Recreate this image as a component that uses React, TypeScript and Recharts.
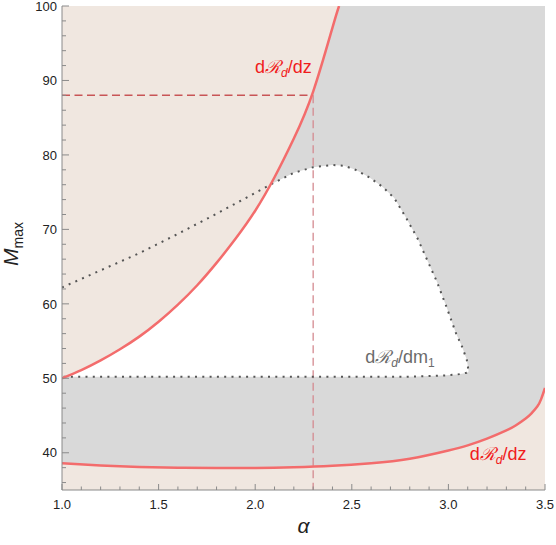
import React from 'react';
import { ComposedChart, Area, Line, XAxis, YAxis, CartesianGrid, ReferenceDot } from 'recharts';

// upper dR_d/dz boundary (beige to its left)
const upperAlpha = [1.0, 1.1, 1.2, 1.3, 1.4, 1.5, 1.6, 1.7, 1.8, 1.9, 2.0, 2.1, 2.2, 2.3, 2.4, 2.434];
const upperM = [50.0, 51.1, 52.4, 53.9, 55.6, 57.6, 59.9, 62.5, 65.5, 68.8, 72.5, 77.0, 82.2, 88.5, 97.1, 100];

// lower dR_d/dz boundary (beige below it)
const lowerAlpha = [1.0, 1.2, 1.4, 1.6, 1.8, 2.0, 2.2, 2.4, 2.6, 2.8, 3.0, 3.1, 3.2, 3.3, 3.35, 3.4, 3.43, 3.46, 3.48, 3.5];
const lowerM = [38.6, 38.3, 38.1, 38.0, 37.95, 37.95, 38.05, 38.25, 38.6, 39.2, 40.3, 41.0, 41.9, 43.0, 43.7, 44.6, 45.3, 46.2, 47.2, 48.7];

// dR_d/dm1 contour (dotted), top and bottom edge
const dotAlpha = [1.0, 1.2, 1.4, 1.6, 1.8, 2.0, 2.1, 2.2, 2.3, 2.4, 2.46, 2.52, 2.59, 2.66, 2.72, 2.78, 2.84, 2.89, 2.94, 2.99, 3.04, 3.07, 3.095, 3.105];
const dotHighM = [62.2, 64.5, 66.8, 69.4, 72.1, 74.9, 76.3, 77.6, 78.35, 78.65, 78.55, 78.0, 77.0, 75.7, 74.2, 71.6, 68.8, 65.9, 63.0, 59.6, 56.0, 54.3, 52.5, 50.9];
const dotLowM = [50.2, 50.2, 50.2, 50.2, 50.2, 50.2, 50.2, 50.2, 50.2, 50.2, 50.2, 50.2, 50.2, 50.2, 50.2, 50.2, 50.25, 50.3, 50.35, 50.4, 50.5, 50.6, 50.75, 50.9];

// dashed guide at alpha = 2.3, M_max = 88
const guideAlpha = 2.3;
const guideM = 88;

const xTicks = [1.0, 1.1, 1.2, 1.3, 1.4, 1.5, 1.6, 1.7, 1.8, 1.9, 2.0, 2.1, 2.2, 2.3, 2.4, 2.5, 2.6, 2.7, 2.8, 2.9, 3.0, 3.1, 3.2, 3.3, 3.4, 3.5];
const yTicks = [36, 38, 40, 42, 44, 46, 48, 50, 52, 54, 56, 58, 60, 62, 64, 66, 68, 70, 72, 74, 76, 78, 80, 82, 84, 86, 88, 90, 92, 94, 96, 98, 100];

const labelAlpha = [2.146, 3.257, 2.749];
const labelM = [91.0, 39.0, 52.05];
const labelVar = ['z', 'z', 'm'];
const labelSub = ['', '', '1'];
const labelColor = ['#f01c1c', '#f01c1c', '#6b6b6b'];

const xMin = 1.0, xMax = 3.5, yMin = 35, yMax = 100;

const FONT = '"Liberation Sans", Arial, sans-serif';
const BEIGE = '#f0e7e0';
const GRAY = '#d9d9d9';
const FRAME = '#8a8a8a';

const pts = (xs: number[], ys: number[]) => xs.map((x, i) => ({ x, y: ys[i] }));

const upperLine = pts(upperAlpha, upperM);
const lowerLine = pts(lowerAlpha, lowerM);
const dottedPath = [...pts(dotAlpha, dotHighM), ...pts(dotAlpha, dotLowM).reverse()];
const grayBand = lowerAlpha.map((x, i) => ({ x, r: [lowerM[i], yMax] }));
const whiteBand = dotAlpha.map((x, i) => ({ x, r: [dotLowM[i], dotHighM[i]] }));
const beigeBand = upperAlpha.map((x, i) => ({ x, r: [upperM[i], yMax] }));
const hGuide = [{ x: xMin, y: guideM }, { x: guideAlpha, y: guideM }];
const vGuide = [{ x: guideAlpha, y: guideM }, { x: guideAlpha, y: yMin }];

const isMajorX = (v: number) => Math.abs(v * 2 - Math.round(v * 2)) < 1e-6;
const isMajorY = (v: number) => v % 10 === 0;

const BottomTick = (p: any) => {
  const v = p.payload.value;
  const major = isMajorX(v);
  return (
    <g>
      <line x1={p.x} x2={p.x} y1={p.y} y2={p.y - (major ? 6 : 3.5)} stroke={FRAME} />
      {major && (
        <text x={p.x} y={p.y + 19} textAnchor="middle" fontSize={13} fontFamily={FONT} fill="#222">
          {v.toFixed(1)}
        </text>
      )}
    </g>
  );
};

const TopTick = (p: any) => {
  const major = isMajorX(p.payload.value);
  return <line x1={p.x} x2={p.x} y1={p.y} y2={p.y + (major ? 6 : 3.5)} stroke={FRAME} />;
};

const LeftTick = (p: any) => {
  const v = p.payload.value;
  const major = isMajorY(v);
  return (
    <g>
      <line x1={p.x} x2={p.x + (major ? 7 : 4)} y1={p.y} y2={p.y} stroke={FRAME} />
      {major && (
        <text x={p.x - 5} y={p.y + 4.7} textAnchor="end" fontSize={13} fontFamily={FONT} fill="#222">
          {v}
        </text>
      )}
    </g>
  );
};

const RightTick = (p: any) => {
  const major = isMajorY(p.payload.value);
  return <line x1={p.x} x2={p.x - (major ? 7 : 4)} y1={p.y} y2={p.y} stroke={FRAME} />;
};

const rateLabel = (i: number) => (p: any) => {
  const vb = p.viewBox;
  return (
    <text x={vb.x} y={vb.y} textAnchor="middle" fontSize={18} fontFamily={FONT} fill={labelColor[i]}>
      d<tspan fontStyle="italic">ℛ</tspan>
      <tspan fontStyle="italic" fontSize={12} dy={4}>d</tspan>
      <tspan dy={-4}>/d{labelVar[i]}</tspan>
      {labelSub[i] && <tspan fontSize={12} dy={4}>{labelSub[i]}</tspan>}
    </text>
  );
};

const AlphaTitle = (p: any) => {
  const vb = p.viewBox;
  return (
    <text x={vb.x + vb.width / 2} y={vb.y + 43} textAnchor="middle" fontSize={21} fontStyle="italic" fontFamily={FONT} fill="#222">
      α
    </text>
  );
};

const MTitle = (p: any) => {
  const vb = p.viewBox;
  const cx = vb.x + 6;
  const cy = vb.y + vb.height / 2 - 4;
  return (
    <text x={cx} y={cy} transform={`rotate(-90, ${cx}, ${cy})`} textAnchor="middle" fontSize={21} fontFamily={FONT} fill="#222">
      <tspan fontStyle="italic">M</tspan>
      <tspan fontSize={14} dy={5}>max</tspan>
    </text>
  );
};

export default function App() {
  return (
    <div style={{ position: 'absolute', left: 0, top: 0 }}>
      <ComposedChart width={556} height={545} margin={{ top: 6, right: 11, bottom: 25, left: 12 }}>
        <CartesianGrid horizontal={false} vertical={false} fill={BEIGE} />
        <XAxis
          type="number"
          dataKey="x"
          domain={[xMin, xMax]}
          allowDataOverflow
          ticks={xTicks}
          interval={0}
          height={30}
          tickSize={0}
          tickMargin={0}
          tickLine={false}
          axisLine={{ stroke: FRAME }}
          tick={BottomTick}
          label={AlphaTitle}
        />
        <XAxis
          xAxisId="top"
          orientation="top"
          type="number"
          dataKey="x"
          domain={[xMin, xMax]}
          allowDataOverflow
          ticks={xTicks}
          interval={0}
          height={0}
          tickSize={0}
          tickMargin={0}
          tickLine={false}
          axisLine={{ stroke: FRAME }}
          tick={TopTick}
        />
        <YAxis
          type="number"
          domain={[yMin, yMax]}
          allowDataOverflow
          ticks={yTicks}
          interval={0}
          width={50}
          tickSize={0}
          tickMargin={0}
          tickLine={false}
          axisLine={{ stroke: FRAME }}
          tick={LeftTick}
          label={MTitle}
        />
        <YAxis
          yAxisId="right"
          orientation="right"
          type="number"
          domain={[yMin, yMax]}
          allowDataOverflow
          ticks={yTicks}
          interval={0}
          width={0}
          tickSize={0}
          tickMargin={0}
          tickLine={false}
          axisLine={{ stroke: FRAME }}
          tick={RightTick}
        />
        <Area data={grayBand} dataKey="r" type="natural" fill={GRAY} fillOpacity={1} stroke="none" isAnimationActive={false} />
        <Area data={whiteBand} dataKey="r" type="linear" fill="#ffffff" fillOpacity={1} stroke="none" isAnimationActive={false} />
        <Area data={beigeBand} dataKey="r" type="natural" fill={BEIGE} fillOpacity={1} stroke="none" isAnimationActive={false} />
        <Line data={hGuide} dataKey="y" type="linear" stroke="#c85556" strokeWidth={1.5} strokeDasharray="8 4.5" dot={false} activeDot={false} isAnimationActive={false} />
        <Line data={vGuide} dataKey="y" type="linear" stroke="#d48a90" strokeWidth={1.3} strokeDasharray="8 4.5" dot={false} activeDot={false} isAnimationActive={false} />
        <Line data={dottedPath} dataKey="y" type="linear" stroke="#555555" strokeWidth={2} strokeDasharray="2 5.3" dot={false} activeDot={false} isAnimationActive={false} />
        <Line data={upperLine} dataKey="y" type="natural" stroke="#f36c6c" strokeWidth={2.5} dot={false} activeDot={false} isAnimationActive={false} />
        <Line data={lowerLine} dataKey="y" type="natural" stroke="#f36c6c" strokeWidth={2.5} dot={false} activeDot={false} isAnimationActive={false} />
        {labelAlpha.map((a, i) => (
          <ReferenceDot key={i} x={a} y={labelM[i]} r={0} fill="none" stroke="none" label={rateLabel(i)} />
        ))}
      </ComposedChart>
    </div>
  );
}
